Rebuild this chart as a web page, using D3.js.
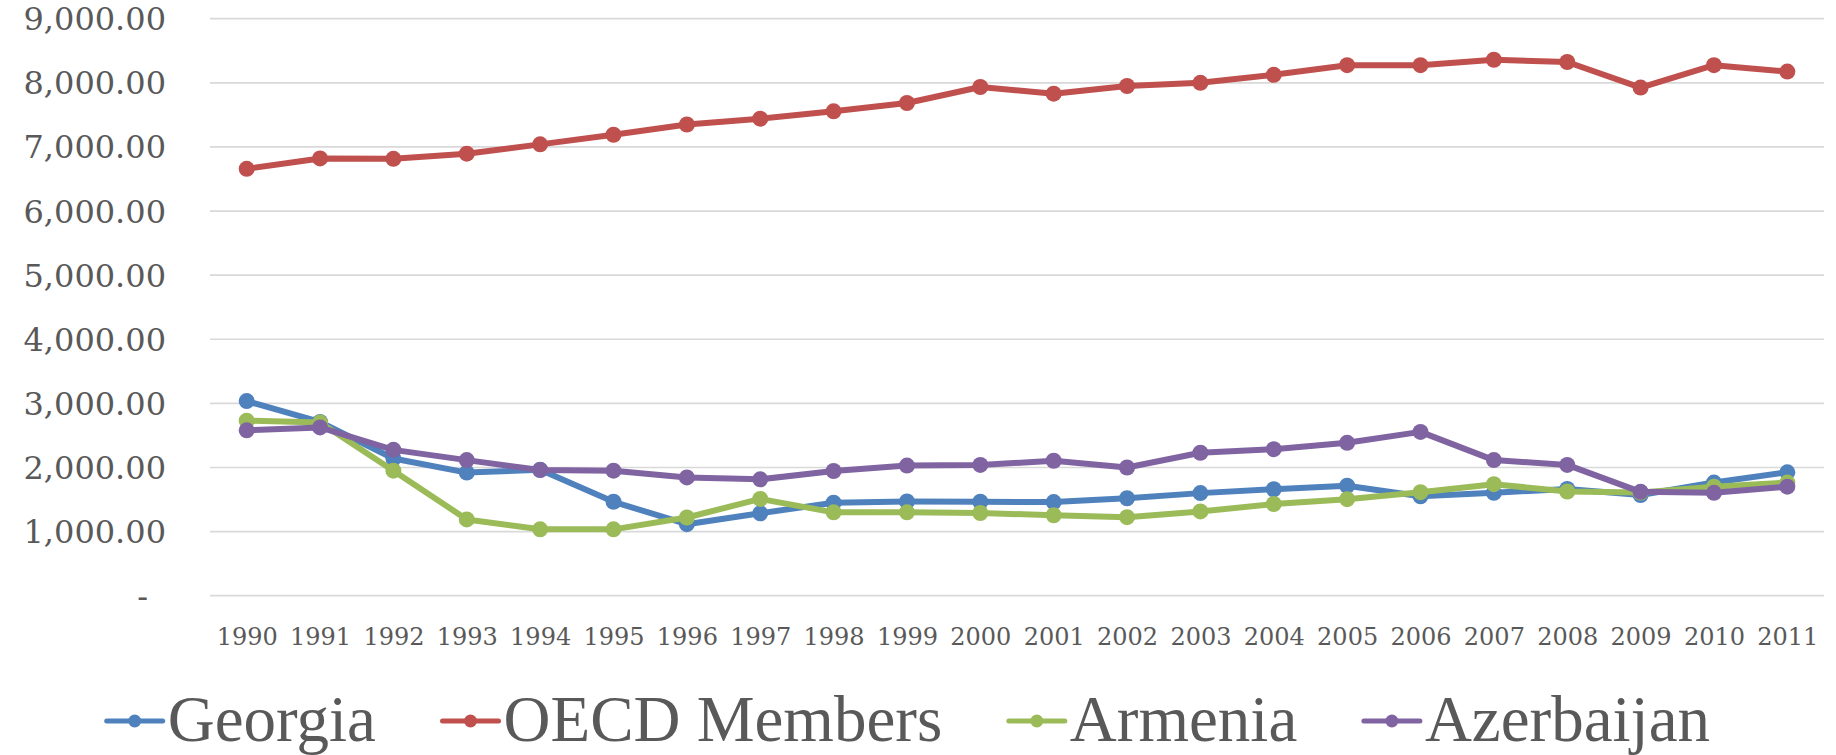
<!DOCTYPE html>
<html>
<head>
<meta charset="utf-8">
<script src="https://cdn.jsdelivr.net/npm/d3@7"></script>
<style>
  html, body { margin: 0; padding: 0; background: #ffffff; }
  svg { display: block; }
</style>
</head>
<body>
<svg id="chart" width="1836" height="755"></svg>
<script>
const years = ["1990","1991","1992","1993","1994","1995","1996","1997","1998","1999","2000",
               "2001","2002","2003","2004","2005","2006","2007","2008","2009","2010","2011"];
const yTicks = [0, 1000, 2000, 3000, 4000, 5000, 6000, 7000, 8000, 9000];

const georgia    = [3035, 2710, 2140, 1920, 1965, 1465, 1115, 1285, 1450, 1470, 1465,
                    1460, 1520, 1600, 1660, 1715, 1550, 1605, 1665, 1570, 1765, 1925];
const oecd       = [6658, 6820, 6815, 6895, 7040, 7190, 7350, 7440, 7555, 7685, 7935,
                    7830, 7950, 8000, 8125, 8275, 8275, 8360, 8325, 7925, 8275, 8175];
const armenia    = [2730, 2700, 1950, 1190, 1035, 1035, 1220, 1510, 1300, 1300, 1290,
                    1255, 1225, 1315, 1430, 1505, 1615, 1740, 1625, 1610, 1700, 1765];
const azerbaijan = [2580, 2625, 2275, 2115, 1960, 1950, 1845, 1815, 1945, 2030, 2040,
                    2105, 2000, 2230, 2285, 2385, 2555, 2115, 2040, 1620, 1605, 1700];

const seriesNames  = ["Georgia", "OECD Members", "Armenia", "Azerbaijan"];
const seriesValues = [georgia, oecd, armenia, azerbaijan];
const seriesColors = ["#4F81BD", "#C0504D", "#9BBB59", "#8064A2"];

const svg = d3.select("#chart");
const plot = { left: 210, right: 1824, top: 18.7, bottom: 595.7 };

const x = d3.scalePoint().domain(years).range([plot.left, plot.right]).padding(0.5);
const y = d3.scaleLinear().domain([0, 9000]).range([plot.bottom, plot.top]);

// Gridlines
svg.append("g")
  .selectAll("line")
  .data(yTicks)
  .join("line")
  .attr("x1", plot.left).attr("x2", plot.right)
  .attr("y1", d => y(d)).attr("y2", d => y(d))
  .attr("stroke", "#D9D9D9").attr("stroke-width", 1.7);

// Y axis labels
const fmt = d3.format(",.2f");
const yAxis = d3.axisLeft(y).tickValues(yTicks).tickSize(0).tickPadding(0)
  .tickFormat(d => d === 0 ? "-" : fmt(d));
const yg = svg.append("g").attr("transform", "translate(166,0)").call(yAxis);
yg.select(".domain").remove();
yg.selectAll("text")
  .attr("font-family", "DejaVu Serif")
  .attr("font-size", 32)
  .attr("fill", "#595959")
  .attr("dy", null)
  .attr("y", 11)
  .attr("x", d => d === 0 ? -18 : 0);

// X axis labels
const xAxis = d3.axisBottom(x).tickSize(0).tickPadding(0);
const xg = svg.append("g").attr("transform", `translate(0,${plot.bottom})`).call(xAxis);
xg.select(".domain").remove();
xg.selectAll("text")
  .attr("font-family", "DejaVu Serif")
  .attr("font-size", 24)
  .attr("fill", "#595959")
  .attr("dy", null)
  .attr("y", 49);

// Lines and markers
const line = d3.line().x((d, i) => x(years[i])).y(d => y(d));
seriesValues.forEach((vals, si) => {
  const g = svg.append("g");
  g.append("path")
    .datum(vals)
    .attr("d", line)
    .attr("fill", "none")
    .attr("stroke", seriesColors[si])
    .attr("stroke-width", 6)
    .attr("stroke-linejoin", "round")
    .attr("stroke-linecap", "round");
  g.selectAll("circle")
    .data(vals)
    .join("circle")
    .attr("cx", (d, i) => x(years[i]))
    .attr("cy", d => y(d))
    .attr("r", 8)
    .attr("fill", seriesColors[si]);
});

// Legend
const legend = svg.append("g");
const items = legend.selectAll("g").data(seriesNames).join("g");
items.append("line")
  .attr("x1", 0).attr("x2", 56).attr("y1", 0).attr("y2", 0)
  .attr("stroke", (d, i) => seriesColors[i])
  .attr("stroke-width", 5)
  .attr("stroke-linecap", "round");
items.append("circle")
  .attr("cx", 28).attr("cy", 0).attr("r", 6.5)
  .attr("fill", (d, i) => seriesColors[i]);
items.append("text")
  .attr("x", 61).attr("y", 20)
  .attr("font-family", "Liberation Serif")
  .attr("font-size", 65)
  .attr("fill", "#595959")
  .text(d => d);

let widths = [];
items.each(function() {
  widths.push(61 + d3.select(this).select("text").node().getComputedTextLength());
});
const legendStart = 106.7, legendEnd = 1710;
const gap = (legendEnd - legendStart - d3.sum(widths)) / (widths.length - 1);
let cx = legendStart;
items.attr("transform", (d, i) => {
  const t = `translate(${cx},721)`;
  cx += widths[i] + gap;
  return t;
});
</script>
</body>
</html>
